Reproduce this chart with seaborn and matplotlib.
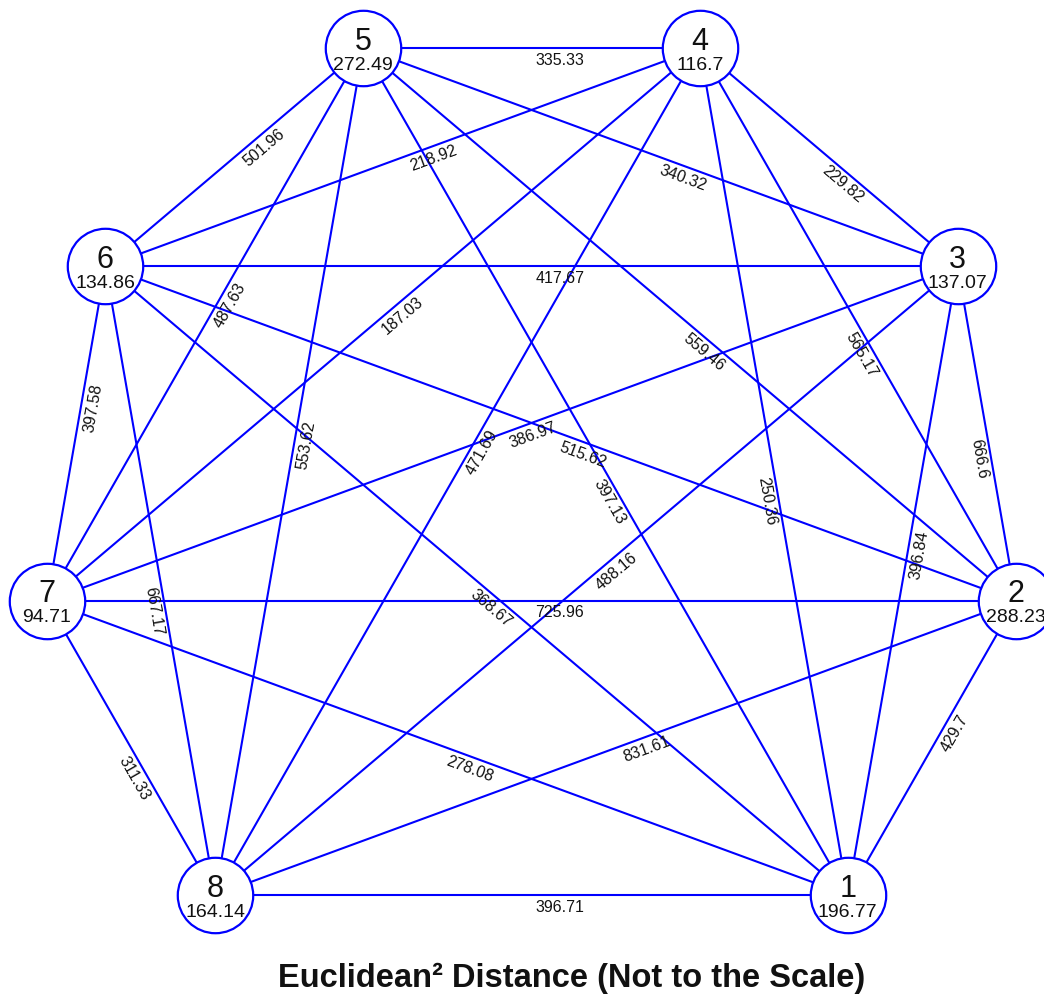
import numpy as np
import pandas as pd
import seaborn as sns
import matplotlib.pyplot as plt

# node data
nodes = [1, 2, 3, 4, 5, 6, 7, 8]
node_values = [196.77, 288.23, 137.07, 116.7, 272.49, 134.86, 94.71, 164.14]

# edge data (complete graph)
edge_from = [1, 1, 1, 1, 1, 1, 1,
             2, 2, 2, 2, 2, 2,
             3, 3, 3, 3, 3,
             4, 4, 4, 4,
             5, 5, 5,
             6, 6,
             7]
edge_to = [2, 3, 4, 5, 6, 7, 8,
           3, 4, 5, 6, 7, 8,
           4, 5, 6, 7, 8,
           5, 6, 7, 8,
           6, 7, 8,
           7, 8,
           8]
edge_dist = [429.7, 396.84, 250.36, 397.13, 368.67, 278.08, 396.71,
             666.6, 565.17, 559.46, 515.62, 725.96, 831.61,
             229.82, 340.32, 417.67, 386.97, 488.16,
             335.33, 218.92, 187.03, 471.69,
             501.96, 487.63, 553.62,
             397.58, 667.17,
             311.33]

title = "Euclidean² Distance (Not to the Scale)"

sns.set_style("white")
plt.rcParams['font.family'] = ['Liberation Sans', 'DejaVu Sans']

# circular layout (9 slots, bottom one empty)
ang = np.deg2rad(310 + 40 * np.arange(len(nodes)))
pos = {n: (np.cos(a), np.sin(a)) for n, a in zip(nodes, ang)}

rows = []
for i, (a, b) in enumerate(zip(edge_from, edge_to)):
    rows.append({'edge': i, 'x': pos[a][0], 'y': pos[a][1]})
    rows.append({'edge': i, 'x': pos[b][0], 'y': pos[b][1]})
edges = pd.DataFrame(rows)

node_df = pd.DataFrame({'node': nodes,
                        'x': [pos[n][0] for n in nodes],
                        'y': [pos[n][1] for n in nodes],
                        'value': node_values})

fig = plt.figure(figsize=(10.44, 9.97), dpi=100)
ax = fig.add_axes([0, 0, 1, 1])
sx, sy = 492.0, 496.5
cx, cy = 531.5, 514.7
ax.set_xlim(-cx / sx, (1044 - cx) / sx)
ax.set_ylim((cy - 997) / sy, cy / sy)
ax.axis('off')

sns.lineplot(data=edges, x='x', y='y', units='edge', estimator=None, sort=False,
             color='#0000ff', lw=1.5, ax=ax, legend=False)

sns.scatterplot(data=node_df, x='x', y='y', s=2950, color='white',
                edgecolor='#0000ff', linewidth=1.6, zorder=3, ax=ax, legend=False)

# edge labels, rotated along the edge
to_px = ax.transData
to_data = ax.transData.inverted()
for a, b, d in zip(edge_from, edge_to, edge_dist):
    p1 = to_px.transform(pos[a])
    p2 = to_px.transform(pos[b])
    if p2[0] < p1[0]:
        p1, p2 = p2, p1
    u = (p2 - p1) / np.hypot(*(p2 - p1))
    down = np.array([u[1], -u[0]])
    anchor = (p1 + p2) / 2 + 4 * u + 12 * down
    rot = np.degrees(np.arctan2(u[1], u[0]))
    ax.text(*to_data.transform(anchor), f"{d:g}", rotation=rot,
            rotation_mode='anchor', ha='left', va='center',
            fontsize=11.5, color='#111111', zorder=4)

for _, r in node_df.iterrows():
    c = to_px.transform((r['x'], r['y']))
    ax.text(*to_data.transform(c + np.array([0, -1.5])), str(int(r['node'])),
            ha='center', va='baseline', fontsize=22, color='#111111', zorder=5)
    ax.text(*to_data.transform(c + np.array([0, -21.5])), f"{r['value']:g}",
            ha='center', va='baseline', fontsize=14, color='#111111', zorder=5)

fig.text(571.5 / 1044, 10 / 997, title, ha='center', va='baseline',
         fontsize=23.5, fontweight='bold', color='#111111')

fig.savefig('out.png', dpi=100)
